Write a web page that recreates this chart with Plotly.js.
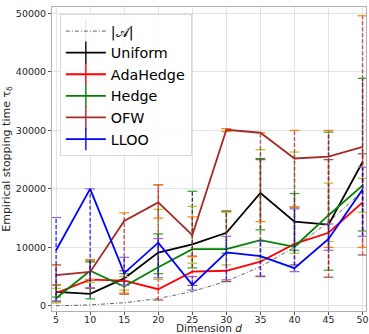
<!DOCTYPE html>
<html>
<head>
<meta charset="utf-8">
<script src="https://cdn.plot.ly/plotly-3.0.1.min.js"></script>
<style>html,body{margin:0;padding:0;background:#fff;}#chart{width:369px;height:334px;}</style>
</head>
<body>
<div id="chart"></div>
<script>
// ---- data ----
var dims = [5, 10, 15, 20, 25, 30, 35, 40, 45, 50];
var xTicks = [5, 10, 15, 20, 25, 30, 35, 40, 45, 50];
var yTicks = [0, 10000, 20000, 30000, 40000, 50000];

var sizeA = [20, 160, 530, 1250, 2450, 4200, 6700, 10000, 14300, 19600];

var uniformMean = [2400, 2050, 4700, 9100, 10500, 12500, 19300, 14400, 13900, 24600];
var uniformLo   = [1500, 1200, 4200, 5500, 6500, 9000, 13000, 9500, 6100, 12800];
var uniformHi   = [3600, 7500, 5500, 12300, 19600, 16200, 25200, 19200, 29700, 38900];

var adaMean = [2200, 4500, 4300, 2850, 5850, 6000, 7550, 10600, 12500, 17700];
var adaLo   = [700, 3000, 2000, 1000, 3500, 4150, 5000, 7000, 4900, 8700];
var adaHi   = [7000, 7700, 6000, 20700, 8500, 16200, 25000, 16900, 25000, 26000];

var hedgeMean = [1300, 6000, 3300, 6600, 9700, 9700, 11250, 10100, 15500, 20600];
var hedgeLo   = [500, 4000, 2700, 4500, 7300, 7000, 8000, 9000, 11000, 16000];
var hedgeHi   = [3000, 7800, 5000, 16500, 17000, 16000, 26700, 26300, 21000, 21800];

var ofwMean = [5250, 5800, 14500, 17700, 12100, 30100, 29600, 25200, 25500, 27200];
var ofwLo   = [3500, 4500, 2200, 15000, 8400, 29800, 14400, 16900, 10000, 10000];
var ofwHi   = [7000, 7900, 15900, 20700, 15200, 30300, 29600, 30000, 30000, 49600];

var llooMean = [9500, 20000, 5600, 10800, 3600, 9150, 8500, 6450, 11450, 19900];
var llooLo   = [850, 3100, 3500, 4800, 2700, 4450, 5100, 5850, 9500, 11900];
var llooHi   = [15100, 20000, 8300, 11500, 5000, 11900, 11000, 16600, 14000, 23700];

var seriesNames = ['Uniform', 'AdaHedge', 'Hedge', 'OFW', 'LLOO'];
var seriesColors = ['#000000', '#ff0000', '#008000', '#a52a2a', '#0000ff'];
var seriesErrColors = ['rgba(0,0,0,0.75)', 'rgba(255,0,0,0.65)', 'rgba(0,128,0,0.55)', 'rgba(165,42,42,0.75)', 'rgba(0,0,255,0.75)'];
var seriesMeans = [uniformMean, adaMean, hedgeMean, ofwMean, llooMean];
var seriesLos = [uniformLo, adaLo, hedgeLo, ofwLo, llooLo];
var seriesHis = [uniformHi, adaHi, hedgeHi, ofwHi, llooHi];

var font = 'DejaVu Sans, sans-serif';
var traces = [];

// |A| reference curve
traces.push({
  x: dims, y: sizeA, type: 'scatter', mode: 'lines', showlegend: false,
  line: {color: '#666666', width: 1, dash: '4px,2px,1px,2px'}, hoverinfo: 'skip'
});

for (var s = 0; s < seriesNames.length; s++) {
  var ex = [], ey = [], cx = [], cy = [];
  for (var i = 0; i < dims.length; i++) {
    ex.push(dims[i], dims[i], null);
    ey.push(seriesLos[s][i], seriesHis[s][i], null);
    cx.push(dims[i], dims[i]);
    cy.push(seriesLos[s][i], seriesHis[s][i]);
  }
  traces.push({
    x: ex, y: ey, type: 'scatter', mode: 'lines', showlegend: false,
    line: {color: seriesErrColors[s], width: 1.4, dash: '4px,2px'}, hoverinfo: 'skip'
  });
  traces.push({
    x: cx, y: cy, type: 'scatter', mode: 'markers', showlegend: false,
    marker: {symbol: 'line-ew-open', size: 7, line: {color: seriesErrColors[s], width: 1.2}}, hoverinfo: 'skip'
  });
  traces.push({
    x: dims, y: seriesMeans[s], type: 'scatter', mode: 'lines', showlegend: false,
    line: {color: seriesColors[s], width: 1.8}
  });
}

// legend entries
traces.push({
  x: [null], y: [null], type: 'scatter', mode: 'lines+markers', name: '|𝒜|',
  line: {color: '#666666', width: 1, dash: '4px,2px,1px,2px'},
  marker: {symbol: 'line-ns-open', size: 16, opacity: 0, line: {color: 'rgba(0,0,0,0)', width: 0}}
});
for (var k = 0; k < seriesNames.length; k++) {
  traces.push({
    x: [null], y: [null], type: 'scatter', mode: 'lines+markers',
    name: seriesNames[k],
    line: {color: seriesColors[k], width: 1.8},
    marker: {symbol: 'line-ns-open', size: 16, line: {color: seriesErrColors[k], width: 1.4}}
  });
}

var layout = {
  width: 369, height: 334,
  margin: {l: 52, r: 3, t: 7, b: 23},
  paper_bgcolor: '#ffffff', plot_bgcolor: '#ffffff',
  font: {family: font, size: 9, color: '#262626'},
  showlegend: true,
  legend: {
    x: 0.025, y: 0.976, xanchor: 'left', yanchor: 'top',
    bgcolor: 'rgba(255,255,255,0.85)', bordercolor: '#d9d9d9', borderwidth: 1,
    font: {family: font, size: 14.3, color: '#000000'},
    tracegroupgap: 0, itemwidth: 40, valign: 'middle'
  },
  xaxis: {
    range: [4.4, 50.5], tickvals: xTicks, ticktext: xTicks.map(String),
    showgrid: true, gridcolor: '#e3e3e3', gridwidth: 1, zeroline: false,
    showline: true, mirror: true, linecolor: '#b0b0b0', linewidth: 1,
    ticks: 'outside', ticklen: 3, tickcolor: '#555', ticklabelstandoff: -3,
    tickfont: {family: font, size: 9.5, color: '#262626'}
  },
  yaxis: {
    range: [-880, 51100], tickvals: yTicks, ticktext: yTicks.map(String),
    showgrid: true, gridcolor: '#e3e3e3', gridwidth: 1, zeroline: false,
    showline: true, mirror: true, linecolor: '#b0b0b0', linewidth: 1,
    ticks: 'outside', ticklen: 3, tickcolor: '#555', tickfont: {family: font, size: 9.5, color: '#262626'},
    title: {text: 'Empirical stopping time τ<sub>δ</sub>', font: {family: font, size: 11, color: '#262626'}, standoff: 4}
  },
  annotations: [{
    xref: 'paper', yref: 'paper', x: 0.5, y: -0.056, xanchor: 'center', yanchor: 'middle',
    text: 'Dimension <i>d</i>', showarrow: false, borderpad: 0, font: {family: font, size: 10.5, color: '#262626'}
  }]
};

Plotly.newPlot('chart', traces, layout, {staticPlot: true, displayModeBar: false});
</script>
</body>
</html>
